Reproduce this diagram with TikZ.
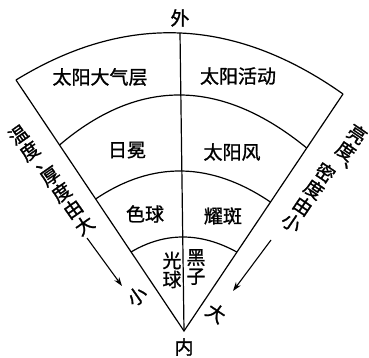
\documentclass[tikz,border=0pt]{standalone}
\usepackage{fontspec}
\newfontfamily\cjk{Noto Sans CJK SC}[FakeBold=1.2]
\usetikzlibrary{arrows.meta,calc}
\begin{document}
\begin{tikzpicture}[x=1pt,y=-1pt,
  edge/.style={line width=1.2pt},
  lbl/.style={font=\cjk\fontsize{19}{20}\selectfont, inner sep=0pt, align=center},
  arr/.style={line width=1.1pt,-{Stealth[length=9pt,width=6pt]}}]
\useasboundingbox[fill=white] (0,0) rectangle (369,358);
% frame
\coordinate (A) at (184,331);
\coordinate (L1) at (16,80);
\coordinate (R1) at (343,94);
\coordinate (T) at (180,33);
\coordinate (L2) at ($(A)!0.741!(L1)$);
\coordinate (R2) at ($(A)!0.772!(R1)$);
\coordinate (L3) at ($(A)!0.526!(L1)$);
\coordinate (R3) at ($(A)!0.544!(R1)$);
\coordinate (L4) at ($(A)!0.315!(L1)$);
\coordinate (R4) at ($(A)!0.333!(R1)$);
\coordinate (C1) at (180.5,-21);
\coordinate (C2) at (178.9,43.5);
\coordinate (C3) at (181,141.5);
\coordinate (C4) at (182,222);
\draw[edge] (L1) -- (A) -- (R1);
\draw[edge] (T) -- (A);
\draw[edge] (L1) .. controls ($(L1)!0.6667!(C1)$) and ($(R1)!0.6667!(C1)$) .. (R1);
\draw[edge] (L2) .. controls ($(L2)!0.6667!(C2)$) and ($(R2)!0.6667!(C2)$) .. (R2);
\draw[edge] (L3) .. controls ($(L3)!0.6667!(C3)$) and ($(R3)!0.6667!(C3)$) .. (R3);
\draw[edge] (L4) .. controls ($(L4)!0.6667!(C4)$) and ($(R4)!0.6667!(C4)$) .. (R4);
% labels
\node[lbl] (wai) at (180,18) {外};
\node[lbl] (nei) at (184,347) {内};
\node[lbl] (dqc) at (100,77) {太阳大气层};
\node[lbl] (hd) at (238,76) {太阳活动};
\node[lbl] (rm) at (127,150) {日冕};
\node[lbl] (fw) at (232,152) {太阳风};
\node[lbl] (sq) at (145,214) {色球};
\node[lbl] (yb) at (223,216) {耀斑};
\node[lbl, font=\cjk\fontsize{19}{19}\selectfont] (gq) at (172,270) {光\\球};
\node[lbl, font=\cjk\fontsize{19}{19}\selectfont] (hz) at (196,267) {黑\\子};
% side texts
\node[lbl, rotate=35] (lt1) at (24,143) {温\\度};
\node[lbl, rotate=35] (ld) at (44,164) {、};
\node[lbl, rotate=35] (lt2) at (67.5,201) {厚\\度\\由\\大};
\node[lbl, rotate=-34] (rt1) at (351.5,142.5) {亮\\度};
\node[lbl, rotate=-34] (rd) at (351,169) {、};
\node[lbl, rotate=-34] (rt2) at (308.5,197.5) {密\\度\\由\\小};
\node[lbl, rotate=35] (xiao) at (137,296) {小};
\node[lbl, rotate=-34] (da) at (216,313) {大};
% arrows
\coordinate (la1) at (87,238);
\coordinate (la2) at (122,286);
\coordinate (ra1) at (271,240);
\coordinate (ra2) at (233,291);
\draw[arr] (la1) -- (la2);
\draw[arr] (ra1) -- (ra2);
\end{tikzpicture}
\end{document}
